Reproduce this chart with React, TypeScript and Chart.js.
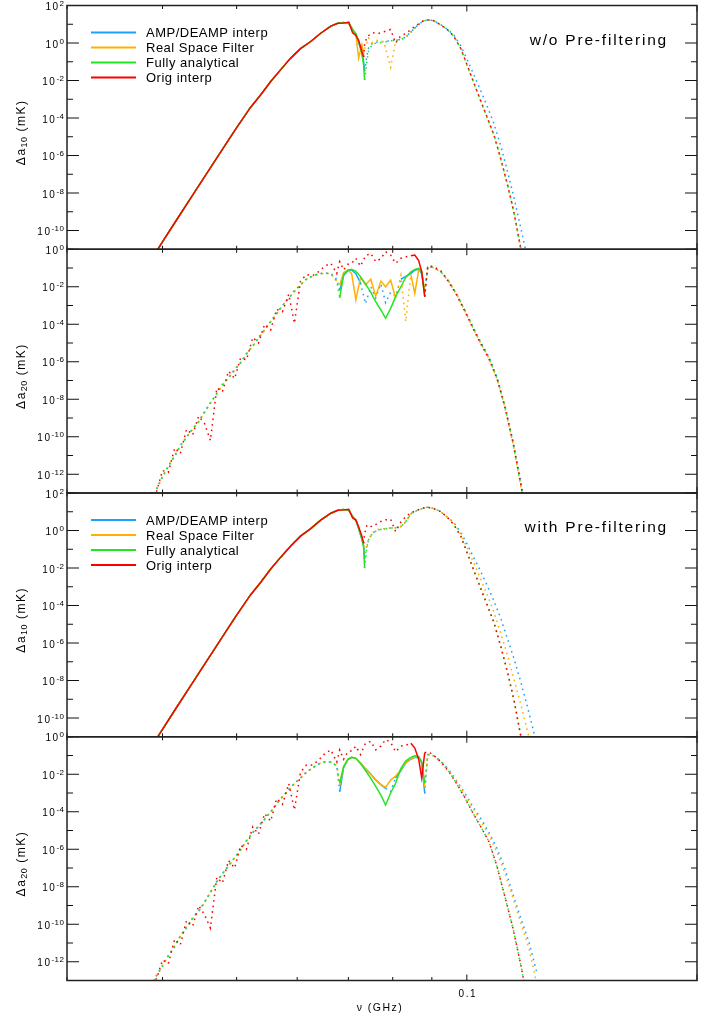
import React, { useEffect, useRef } from "react";
import { Chart, registerables } from "chart.js";

Chart.register(...registerables);

const FONT = "'Liberation Sans', Arial, Helvetica, sans-serif";

// ---------- frequency grids (GHz) ----------
const freqA = [0.0386, 0.0398, 0.0416, 0.0435, 0.0455, 0.0476, 0.0498, 0.0521, 0.0538, 0.0554,
  0.0571, 0.0588, 0.0606, 0.0625, 0.0644, 0.0664, 0.0678, 0.0690, 0.0701, 0.0709,
  0.0716, 0.0722, 0.0729, 0.0733, 0.0735, 0.0740, 0.0744, 0.0753, 0.0765, 0.0779,
  0.0795, 0.0807, 0.0820, 0.0832, 0.0845, 0.0863, 0.0878, 0.0889, 0.0905, 0.0925,
  0.0944, 0.0962, 0.0982, 0.1003, 0.1024, 0.1043, 0.1065, 0.1085, 0.1108, 0.1131,
  0.1152, 0.1177, 0.1202, 0.1231];

const freqB = [0.0386, 0.0393, 0.0400, 0.0407, 0.0415, 0.0422, 0.0430, 0.0438, 0.0446, 0.0454,
  0.0462, 0.0471, 0.0479, 0.0488, 0.0497, 0.0506, 0.0515, 0.0525, 0.0534, 0.0544,
  0.0554, 0.0564, 0.0574, 0.0585, 0.0595, 0.0606, 0.0617, 0.0629, 0.0640, 0.0652,
  0.0664, 0.0676, 0.0682, 0.0690, 0.0699, 0.0707, 0.0716, 0.0726, 0.0737, 0.0749,
  0.0760, 0.0772, 0.0783, 0.0795, 0.0807, 0.0820, 0.0832, 0.0845, 0.0855, 0.0865,
  0.0873, 0.0881, 0.0889, 0.0903, 0.0925, 0.0947, 0.0970, 0.0994, 0.1018, 0.1043,
  0.1069, 0.1095, 0.1121, 0.1149, 0.1177, 0.1206, 0.1235];

// ---------- log10 |Δa| (mK) ----------
// Panel 1: Δa10, w/o pre-filtering
const p1Amp = [-11.6, -10.74, -9.52, -8.3, -7.07, -5.85, -4.62, -3.45, -2.75, -2.05,
  -1.42, -0.82, -0.30, 0.08, 0.52, 0.90, 1.05, 1.09, 1.04, 0.72,
  0.48, 0.02, -0.5, -1.0, -1.5, -0.7, -0.25, 0.0, 0.05, 0.08,
  0.12, 0.15, 0.2, 0.32, 0.6, 0.96, 1.18, 1.23, 1.19, 0.97,
  0.72, 0.42, -0.15, -0.95, -1.8, -2.55, -3.45, -4.3, -5.5, -6.9,
  -8.2, -9.9, -11.6, -13.8];
const p1Real = [-11.6, -10.74, -9.52, -8.3, -7.07, -5.85, -4.62, -3.45, -2.75, -2.05,
  -1.42, -0.82, -0.30, 0.08, 0.52, 0.90, 1.05, 1.09, 1.04, 0.70,
  0.45, -0.8, -0.1, -0.6, -0.3, 0.0, 0.27, 0.0, 0.16, 0.05,
  -1.3, 0.1, 0.2, 0.3, 0.58, 0.95, 1.18, 1.23, 1.19, 0.96,
  0.70, 0.35, -0.30, -1.28, -2.25, -3.1, -4.05, -4.9, -6.2, -7.6,
  -9.0, -11.0, -13.0, -15.5];
const p1Fully = [-11.6, -10.74, -9.52, -8.3, -7.07, -5.85, -4.62, -3.45, -2.75, -2.05,
  -1.42, -0.82, -0.30, 0.08, 0.52, 0.90, 1.05, 1.09, 1.04, 0.72,
  0.50, 0.05, -0.55, -1.2, -1.97, -1.0, -0.40, -0.05, 0.0, 0.05,
  0.12, 0.15, 0.18, 0.30, 0.58, 0.95, 1.18, 1.23, 1.19, 0.96,
  0.70, 0.35, -0.30, -1.28, -2.25, -3.1, -4.05, -4.9, -6.2, -7.6,
  -9.0, -11.0, -13.0, -15.5];
const p1Orig = [-11.6, -10.74, -9.52, -8.3, -7.07, -5.85, -4.62, -3.45, -2.75, -2.05,
  -1.42, -0.82, -0.30, 0.08, 0.52, 0.90, 1.05, 1.06, 1.12, 0.55,
  0.40, 0.15, -0.45, -0.75, -0.1, 0.32, 0.4, 0.55, 0.5, 0.6,
  0.72, 0.0, 0.4, 0.5, 0.72, 1.0, 1.19, 1.23, 1.19, 0.96,
  0.70, 0.35, -0.30, -1.28, -2.25, -3.1, -4.05, -4.9, -6.2, -7.6,
  -9.0, -11.0, -13.0, -15.5];

// Panel 2: Δa20, w/o pre-filtering
const p2Amp = [-13.3, -12.75, -12.15, -11.55, -11.05, -10.45, -10.05, -9.55, -9.2, -8.65,
  -8.2, -7.7, -7.2, -6.85, -6.4, -6.05, -5.55, -5.15, -4.7, -4.3,
  -3.85, -3.4, -3.0, -2.6, -2.2, -1.9, -1.58, -1.42, -1.3, -1.27,
  -1.3, -1.6, -2.2, -1.4, -1.15, -1.1, -1.3, -1.8, -2.9, -2.0,
  -2.6, -1.85, -2.85, -2.3, -2.5, -1.6, -1.45, -1.3, -1.12, -1.05,
  -1.3, -2.3, -0.95, -0.96, -1.2, -1.7, -2.4, -3.25, -4.1, -4.95,
  -5.75, -6.8, -8.3, -10.2, -12.4, -14.8, -17.3];
const p2Real = [-13.25, -12.8, -12.1, -11.6, -11.0, -10.5, -10.0, -9.6, -9.2, -8.7,
  -8.2, -7.7, -7.25, -6.85, -6.45, -6.05, -5.6, -5.15, -4.75, -4.3,
  -3.86, -3.45, -3.0, -2.62, -2.25, -1.9, -1.6, -1.42, -1.32, -1.28,
  -1.3, -1.7, -1.9, -1.25, -1.1, -1.3, -2.7, -1.5, -1.9, -1.6,
  -2.5, -1.7, -2.0, -1.65, -2.6, -1.4, -3.86, -1.35, -2.35, -1.1,
  -1.2, -2.2, -0.95, -0.97, -1.22, -1.72, -2.42, -3.28, -4.17, -5.02,
  -5.82, -6.9, -8.4, -10.35, -12.7, -15.1, -17.6];
const p2Fully = [-13.3, -12.8, -12.1, -11.6, -11.0, -10.5, -10.0, -9.6, -9.2, -8.7,
  -8.2, -7.7, -7.25, -6.85, -6.45, -6.05, -5.6, -5.15, -4.75, -4.3,
  -3.86, -3.45, -3.0, -2.62, -2.25, -1.9, -1.6, -1.42, -1.32, -1.28,
  -1.3, -1.7, -2.6, -1.35, -1.12, -1.07, -1.18, -1.46, -1.85, -2.3,
  -2.8, -3.24, -3.68, -3.15, -2.53, -2.0, -1.5, -1.2, -1.08, -1.02,
  -1.2, -2.53, -0.93, -0.95, -1.2, -1.7, -2.4, -3.25, -4.15, -5.0,
  -5.8, -6.85, -8.35, -10.3, -12.6, -15.0, -17.5];
const p2Orig = [-13.0, -12.9, -11.8, -11.9, -10.6, -10.9, -9.6, -9.9, -8.9, -9.3,
  -10.2, -7.4, -7.6, -6.5, -6.9, -5.8, -5.9, -4.7, -5.0, -4.0,
  -4.3, -3.2, -3.33, -2.4, -3.95, -1.7, -1.35, -1.4, -1.2, -0.9,
  -0.75, -1.3, -0.66, -1.1, -0.8, -0.75, -0.48, -0.9, -0.35, -0.22,
  -0.66, -0.5, -0.13, -0.31, -0.75, -0.48, -0.4, -0.35, -0.31, -0.6,
  -1.2, -2.53, -0.9, -0.9, -1.15, -1.75, -2.45, -3.3, -4.2, -5.05,
  -5.85, -6.9, -8.4, -10.3, -12.6, -15.0, -17.5];

// Panel 3: Δa10, with pre-filtering
const p3Amp = [-11.6, -10.74, -9.52, -8.3, -7.07, -5.85, -4.62, -3.45, -2.75, -2.05,
  -1.42, -0.84, -0.30, 0.10, 0.55, 0.92, 1.08, 1.12, 1.06, 0.75,
  0.55, 0.10, -0.45, -0.85, -1.5, -0.85, -0.5, -0.13, 0.03, 0.08,
  0.13, 0.15, 0.22, 0.47, 0.9, 1.09, 1.2, 1.24, 1.18, 1.0,
  0.7, 0.42, -0.1, -0.8, -1.55, -2.2, -3.0, -3.75, -4.7, -5.8,
  -6.8, -8.1, -9.5, -11.2];
const p3Real = [-11.6, -10.74, -9.52, -8.3, -7.07, -5.85, -4.62, -3.45, -2.75, -2.05,
  -1.42, -0.84, -0.30, 0.10, 0.55, 0.92, 1.08, 1.12, 1.06, 0.75,
  0.55, 0.10, -0.4, -0.8, -1.3, -0.8, -0.45, -0.1, 0.05, 0.1,
  0.12, 0.14, 0.2, 0.45, 0.88, 1.08, 1.2, 1.24, 1.17, 1.0,
  0.69, 0.38, -0.2, -1.0, -1.85, -2.6, -3.5, -4.35, -5.5, -6.7,
  -7.9, -9.3, -10.8, -12.6];
const p3Fully = [-11.6, -10.74, -9.52, -8.3, -7.07, -5.85, -4.62, -3.45, -2.75, -2.05,
  -1.42, -0.84, -0.30, 0.10, 0.55, 0.92, 1.08, 1.12, 1.06, 0.75,
  0.55, 0.10, -0.45, -0.9, -2.0, -0.9, -0.5, -0.13, 0.03, 0.08,
  0.13, 0.15, 0.22, 0.47, 0.9, 1.09, 1.2, 1.24, 1.17, 1.0,
  0.68, 0.3, -0.3, -1.28, -2.25, -3.1, -4.05, -4.9, -6.2, -7.6,
  -9.0, -11.0, -13.0, -15.5];
const p3Orig = [-11.6, -10.74, -9.52, -8.3, -7.07, -5.85, -4.62, -3.45, -2.75, -2.05,
  -1.42, -0.84, -0.30, 0.10, 0.55, 0.92, 1.08, 1.1, 1.13, 0.67,
  0.56, 0.2, -0.3, -0.68, -0.2, 0.29, 0.25, 0.2, 0.4, 0.56,
  0.6, -0.05, 0.45, 0.74, 0.95, 1.1, 1.2, 1.24, 1.17, 1.0,
  0.68, 0.3, -0.3, -1.28, -2.25, -3.1, -4.05, -4.9, -6.2, -7.6,
  -9.0, -11.0, -13.0, -15.5];

// Panel 4: Δa20, with pre-filtering
const p4Amp = [-13.3, -12.7, -12.25, -11.65, -11.2, -10.6, -10.2, -9.65, -9.3, -8.8,
  -8.3, -7.7, -7.3, -6.85, -6.45, -6.0, -5.55, -5.1, -4.75, -4.4,
  -4.0, -3.55, -3.2, -2.8, -2.5, -2.2, -1.88, -1.65, -1.45, -1.33,
  -1.35, -1.55, -2.93, -1.65, -1.22, -1.1, -1.15, -1.4, -1.7, -2.0,
  -2.3, -2.55, -2.75, -2.93, -2.2, -1.8, -1.4, -1.2, -1.1, -1.12,
  -1.4, -3.02, -0.95, -0.98, -1.3, -1.75, -2.35, -3.0, -3.7, -4.35,
  -5.1, -5.95, -7.0, -8.4, -9.7, -10.95, -12.6];
const p4Real = [-13.25, -12.75, -12.2, -11.7, -11.15, -10.65, -10.15, -9.7, -9.3, -8.85,
  -8.3, -7.75, -7.3, -6.9, -6.45, -6.04, -5.55, -5.1, -4.8, -4.4,
  -4.0, -3.6, -3.2, -2.85, -2.5, -2.2, -1.9, -1.65, -1.45, -1.35,
  -1.35, -1.55, -2.6, -1.6, -1.2, -1.1, -1.15, -1.4, -1.7, -2.0,
  -2.3, -2.55, -2.7, -2.31, -2.1, -1.75, -1.38, -1.18, -1.08, -1.1,
  -1.38, -2.7, -0.95, -0.98, -1.3, -1.78, -2.4, -3.08, -3.8, -4.5,
  -5.25, -6.15, -7.25, -8.6, -9.95, -11.3, -13.2];
const p4Fully = [-13.3, -12.75, -12.2, -11.7, -11.15, -10.65, -10.15, -9.7, -9.3, -8.85,
  -8.3, -7.75, -7.3, -6.9, -6.45, -6.04, -5.55, -5.1, -4.8, -4.4,
  -4.0, -3.6, -3.2, -2.85, -2.5, -2.2, -1.9, -1.65, -1.45, -1.35,
  -1.35, -1.55, -2.48, -1.6, -1.2, -1.1, -1.15, -1.42, -1.8, -2.22,
  -2.65, -3.11, -3.64, -3.0, -2.48, -1.68, -1.3, -1.1, -1.02, -1.05,
  -1.33, -2.48, -0.95, -1.0, -1.33, -1.85, -2.5, -3.25, -4.05, -4.8,
  -5.6, -6.9, -8.5, -10.2, -12.2, -14.5, -17.0];
const p4Orig = [-13.1, -12.9, -11.9, -12.1, -10.8, -11.1, -9.8, -10.1, -9.0, -9.5,
  -10.2, -7.5, -7.8, -6.6, -7.0, -5.8, -6.0, -4.8, -5.2, -4.1,
  -4.5, -3.3, -3.6, -2.5, -3.9, -1.9, -1.5, -1.5, -1.25, -0.9,
  -0.7, -1.35, -0.7, -1.2, -0.8, -0.75, -0.5, -0.95, -0.35, -0.25,
  -0.7, -0.5, -0.15, -0.3, -0.8, -0.5, -0.45, -0.35, -0.6, -1.2,
  -2.2, -0.85, -0.8, -0.95, -1.35, -1.85, -2.5, -3.25, -4.05, -4.8,
  -5.6, -6.9, -8.5, -10.2, -12.2, -14.5, -17.0];

// ---------- frequency ranges where Δa > 0 (solid); elsewhere Δa < 0 (dotted) ----------
const p1AmpSolid = [[0.0386, 0.0735]];
const p1RealSolid = [[0.0386, 0.0733]];
const p1FullySolid = [[0.0386, 0.0735]];
const p1OrigSolid = [[0.0386, 0.0733]];
const p2AmpSolid = [[0.0682, 0.0726], [0.0820, 0.0881]];
const p2RealSolid = [[0.0682, 0.0807], [0.0845, 0.0881]];
const p2FullySolid = [[0.0682, 0.0881]];
const p2OrigSolid = [[0.0845, 0.0881]];
const p3AmpSolid = [[0.0386, 0.0735]];
const p3RealSolid = [[0.0386, 0.0733]];
const p3FullySolid = [[0.0386, 0.0735]];
const p3OrigSolid = [[0.0386, 0.0733]];
const p4AmpSolid = [[0.0682, 0.0783], [0.0807, 0.0881]];
const p4RealSolid = [[0.0682, 0.0881]];
const p4FullySolid = [[0.0682, 0.0881]];
const p4OrigSolid = [[0.0845, 0.0881]];

// ---------- labels / ticks ----------
const seriesLabels = ["AMP/DEAMP interp", "Real Space Filter", "Fully analytical", "Orig interp"];
const seriesColors = ["#1ea0ff", "#ffb000", "#22e622", "#ff0000"];
const xMinorTicks = [0.03, 0.04, 0.05, 0.06, 0.07, 0.08, 0.09];
const xMajorTicks = [0.1, 0.2];
const xTickLabels = ["0.1"];
const xTickLabelValues = [0.1];
const xTitle = "ν (GHz)";

type PanelCfg = {
  id: number;
  top: number;
  bottom: number;
  yMin: number;
  yMax: number;
  sub: string;
  freq: number[];
  vals: number[][];
  solid: number[][][];
  legend: boolean;
  note: string;
  xLabels: boolean;
};

const panels: PanelCfg[] = [
  { id: 1, top: 5.5, bottom: 249.25, yMin: -11, yMax: 2, sub: "10", freq: freqA,
    vals: [p1Amp, p1Real, p1Fully, p1Orig], solid: [p1AmpSolid, p1RealSolid, p1FullySolid, p1OrigSolid],
    legend: true, note: "w/o Pre-filtering", xLabels: false },
  { id: 2, top: 249.25, bottom: 493, yMin: -13, yMax: 0, sub: "20", freq: freqB,
    vals: [p2Amp, p2Real, p2Fully, p2Orig], solid: [p2AmpSolid, p2RealSolid, p2FullySolid, p2OrigSolid],
    legend: false, note: "", xLabels: false },
  { id: 3, top: 493, bottom: 736.75, yMin: -11, yMax: 2, sub: "10", freq: freqA,
    vals: [p3Amp, p3Real, p3Fully, p3Orig], solid: [p3AmpSolid, p3RealSolid, p3FullySolid, p3OrigSolid],
    legend: true, note: "with Pre-filtering", xLabels: false },
  { id: 4, top: 736.75, bottom: 980.5, yMin: -13, yMax: 0, sub: "20", freq: freqB,
    vals: [p4Amp, p4Real, p4Fully, p4Orig], solid: [p4AmpSolid, p4RealSolid, p4FullySolid, p4OrigSolid],
    legend: false, note: "", xLabels: true },
];

const W = 713;
const H = 1021;
const PLOT_LEFT = 67;
const PLOT_RIGHT = 697;

function inSolid(ranges: number[][], x: number) {
  for (const r of ranges) if (x >= r[0] - 1e-9 && x <= r[1] + 1e-9) return true;
  return false;
}

function setFont(ctx: any, size: number, spacing: number) {
  ctx.font = `${size}px ${FONT}`;
  ctx.letterSpacing = `${spacing}px`;
}

function makePlugin(cfg: PanelCfg) {
  return {
    id: "idlAxes" + cfg.id,
    afterDraw(chart: any) {
      const ctx = chart.ctx;
      const a = chart.chartArea;
      const xs = chart.scales.x;
      const ys = chart.scales.y;
      ctx.save();
      // ticks
      ctx.strokeStyle = "#111";
      ctx.lineWidth = 1;
      ctx.beginPath();
      for (let e = cfg.yMin; e <= cfg.yMax; e++) {
        const py = ys.getPixelForValue(Math.pow(10, e));
        const len = e % 2 === 0 ? 12 : 6;
        ctx.moveTo(a.left, py); ctx.lineTo(a.left + len, py);
        ctx.moveTo(a.right, py); ctx.lineTo(a.right - len, py);
      }
      const xt = [...xMinorTicks.map((v) => [v, 3.5]), ...xMajorTicks.map((v) => [v, 6])];
      for (const [v, len] of xt) {
        const px = xs.getPixelForValue(v);
        ctx.moveTo(px, a.bottom); ctx.lineTo(px, a.bottom - len);
        ctx.moveTo(px, a.top); ctx.lineTo(px, a.top + len);
      }
      ctx.stroke();
      // frame
      ctx.lineWidth = 1.5;
      ctx.strokeStyle = "#222";
      ctx.strokeRect(a.left, a.top, a.right - a.left, a.bottom - a.top);

      ctx.fillStyle = "#000";
      ctx.textAlign = "left";
      ctx.textBaseline = "alphabetic";
      // y tick labels 10^n
      for (let e = cfg.yMin; e <= cfg.yMax; e++) {
        if (e % 2 !== 0) continue;
        const py = ys.getPixelForValue(Math.pow(10, e));
        const sup = String(e);
        setFont(ctx, 8, 0.5);
        const wSup = ctx.measureText(sup).width;
        setFont(ctx, 10, 1.5);
        const wBase = ctx.measureText("10").width;
        const xr = 64.5;
        ctx.fillText("10", xr - wSup - wBase, py + 4.5);
        setFont(ctx, 8, 0.5);
        ctx.fillText(sup, xr - wSup, py + 0.5);
      }
      // y axis title
      {
        const cy = (cfg.top + cfg.bottom) / 2 + 5;
        ctx.save();
        ctx.translate(22, cy);
        ctx.rotate(-Math.PI / 2);
        ctx.textBaseline = "middle";
        const parts: [string, number, number, number][] = [
          ["Δa", 12, 1.5, 0],
          [cfg.sub, 9, 0.5, 3],
          [" (mK)", 12, 1.5, 0],
        ];
        let total = 0;
        const widths: number[] = [];
        for (const [t, s, sp] of parts) {
          setFont(ctx, s, sp);
          const w = ctx.measureText(t).width;
          widths.push(w);
          total += w;
        }
        let x0 = -total / 2;
        parts.forEach(([t, s, sp, dy], i) => {
          setFont(ctx, s, sp);
          ctx.fillText(t, x0, dy);
          x0 += widths[i];
        });
        ctx.restore();
      }
      // legend
      if (cfg.legend) {
        for (let i = 0; i < seriesLabels.length; i++) {
          const ly = a.top + 27 + 15 * i;
          ctx.strokeStyle = seriesColors[i];
          ctx.lineWidth = 2;
          ctx.beginPath();
          ctx.moveTo(91, ly);
          ctx.lineTo(136, ly);
          ctx.stroke();
          setFont(ctx, 13, 0.5);
          ctx.fillStyle = "#000";
          ctx.textAlign = "left";
          ctx.textBaseline = "alphabetic";
          ctx.fillText(seriesLabels[i], 146, ly + 4.5);
        }
      }
      // annotation
      if (cfg.note) {
        setFont(ctx, 15.5, 1.8);
        ctx.textAlign = "right";
        ctx.textBaseline = "alphabetic";
        ctx.fillText(cfg.note, 668, a.top + 39);
      }
      // x labels and title
      if (cfg.xLabels) {
        setFont(ctx, 10, 1.5);
        ctx.textAlign = "center";
        ctx.textBaseline = "alphabetic";
        xTickLabelValues.forEach((v, i) => {
          ctx.fillText(xTickLabels[i], xs.getPixelForValue(v) + 1, a.bottom + 16.5);
        });
        setFont(ctx, 10.5, 1.5);
        ctx.fillText(xTitle, (a.left + a.right) / 2 - 2, a.bottom + 30.5);
      }
      ctx.restore();
    },
  };
}

function Panel({ cfg }: { cfg: PanelCfg }) {
  const ref = useRef<HTMLCanvasElement>(null);
  useEffect(() => {
    const order = [3, 2, 1, 0]; // Orig drawn on top, then Fully, Real, AMP
    const datasets = order.map((k) => {
      const vals = cfg.vals[k];
      const ranges = cfg.solid[k];
      return {
        label: seriesLabels[k],
        data: cfg.freq.map((f, i) => ({ x: f, y: Math.pow(10, vals[i]) })),
        borderColor: seriesColors[k],
        backgroundColor: seriesColors[k],
        borderWidth: 1.5,
        pointRadius: 0,
        tension: 0,
        fill: false,
        segment: {
          borderDash: (c: any) =>
            inSolid(ranges, c.p0.parsed.x) && inSolid(ranges, c.p1.parsed.x) ? [] : [1.6, 4],
        },
      };
    });
    const chart = new Chart(ref.current as HTMLCanvasElement, {
      type: "line",
      data: { datasets } as any,
      options: {
        responsive: false,
        maintainAspectRatio: false,
        animation: false,
        devicePixelRatio: 1,
        events: [],
        layout: {
          padding: { left: PLOT_LEFT, right: W - PLOT_RIGHT, top: cfg.top, bottom: H - cfg.bottom },
        },
        plugins: { legend: { display: false }, tooltip: { enabled: false } },
        scales: {
          x: { type: "logarithmic", min: 0.03, max: 0.2, display: false, bounds: "data" },
          y: {
            type: "logarithmic",
            min: Math.pow(10, cfg.yMin),
            max: Math.pow(10, cfg.yMax),
            display: false,
            bounds: "data",
          },
        },
      } as any,
      plugins: [makePlugin(cfg)],
    });
    return () => chart.destroy();
  }, [cfg]);
  return (
    <canvas
      ref={ref}
      width={W}
      height={H}
      style={{ position: "absolute", left: 0, top: 0, width: W, height: H }}
    />
  );
}

export default function App() {
  return (
    <div style={{ position: "absolute", left: 0, top: 0, width: W, height: H, background: "#fff" }}>
      {panels.map((p) => (
        <Panel key={p.id} cfg={p} />
      ))}
    </div>
  );
}
